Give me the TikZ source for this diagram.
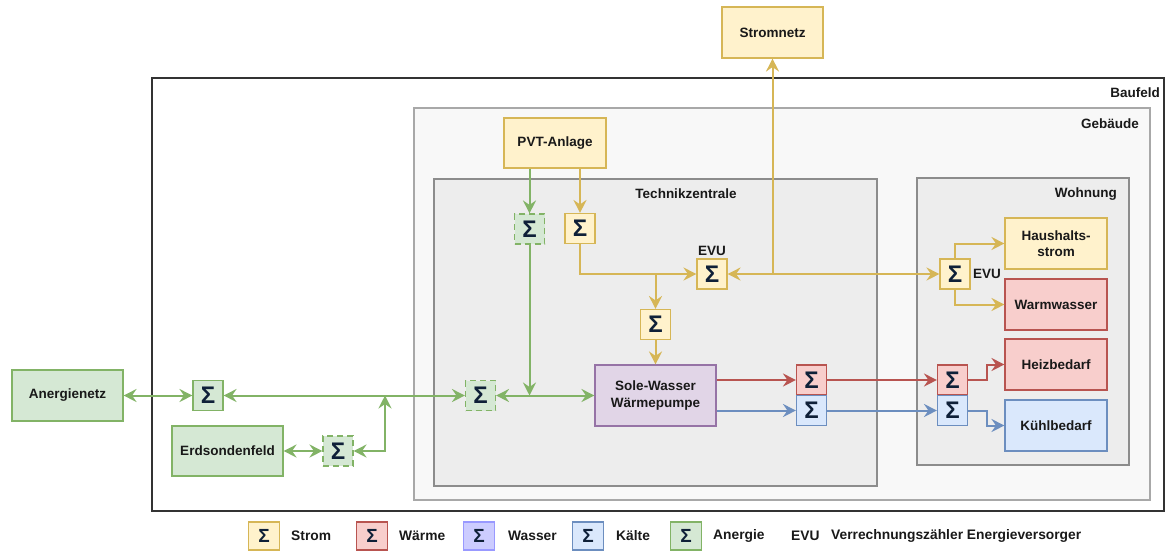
\documentclass[tikz,border=0pt]{standalone}
\usepackage{fontspec}
\setmainfont{Liberation Sans}
\usetikzlibrary{arrows.meta}
\definecolor{yf}{HTML}{FFF2CC}\definecolor{yd}{HTML}{D6B656}
\definecolor{rf}{HTML}{F8CECC}\definecolor{rd}{HTML}{B85450}
\definecolor{bf}{HTML}{DAE8FC}\definecolor{bd}{HTML}{6C8EBF}
\definecolor{gf}{HTML}{D5E8D4}\definecolor{gd}{HTML}{82B366}
\definecolor{pf}{HTML}{E1D5E7}\definecolor{pd}{HTML}{9673A6}
\definecolor{wf}{HTML}{CCCCFF}\definecolor{wd}{HTML}{9999FF}
\definecolor{sigc}{HTML}{0F2038}
\definecolor{geb}{HTML}{F8F8F8}\definecolor{gebd}{HTML}{A8A8A8}
\definecolor{tz}{HTML}{EDEDED}\definecolor{tzd}{HTML}{8C8C8C}
\begin{document}
\begin{tikzpicture}[x=1pt,y=-1pt,
  >={Stealth[length=13pt,width=13pt,inset=4.5pt]},
  lbl/.style={font=\bfseries\fontsize{13.5}{16.5}\selectfont, inner sep=0pt, align=center, text=black!90},
  box/.style={lbl, draw, line width=1.1pt, minimum width=101pt, minimum height=51pt},
  ybox/.style={box, fill=yf, draw=yd},
  rbox/.style={box, fill=rf, draw=rd},
  bbox/.style={box, fill=bf, draw=bd},
  gbox/.style={box, fill=gf, draw=gd, minimum width=111pt},
  pbox/.style={box, fill=pf, draw=pd, minimum width=121pt, minimum height=61pt},
  sig/.style={draw, line width=1.1pt, inner sep=0pt, minimum width=30pt, minimum height=30pt,
    font=\bfseries\fontsize{24}{24}\selectfont, text=sigc},
  ysig/.style={sig, fill=yf, draw=yd},
  rsig/.style={sig, fill=rf, draw=rd},
  bsig/.style={sig, fill=bf, draw=bd},
  gsig/.style={sig, fill=gf, draw=gd},
  gdsig/.style={gsig, dash pattern=on 6pt off 4pt},
  lsig/.style={sig, minimum width=31pt, minimum height=28pt, font=\bfseries\fontsize{19}{19}\selectfont},
  ltxt/.style={font=\bfseries\fontsize{13.8}{16}\selectfont, inner sep=0pt, anchor=west, text=black!90},
  ycon/.style={draw=yd, line width=2pt},
  rcon/.style={draw=rd, line width=2pt},
  bcon/.style={draw=bd, line width=2pt},
  gcon/.style={draw=gd, line width=2pt},
  ]
\useasboundingbox (0,0) rectangle (1165,555);

% containers
\draw[draw=black!80, line width=1.5pt, fill=white] (152,78) rectangle (1164,511);
\node[lbl, anchor=east] (baufeld) at (1160,93) {Baufeld};
\draw[draw=gebd, line width=1.2pt, fill=geb] (414,108) rectangle (1150,500);
\node[lbl, anchor=east] (gebaeude) at (1139,123.5) {Gebäude};
\draw[draw=tzd, line width=1.2pt, fill=tz] (434,179) rectangle (877,486);
\node[lbl] (technik) at (686,194) {Technikzentrale};
\draw[draw=tzd, line width=1.2pt, fill=tz] (917,178) rectangle (1129,465);
\node[lbl, anchor=east] (wohnung) at (1117,194) {Wohnung};

% nodes
\node[ybox] (strom) at (772.5,32.5) {Stromnetz};
\node[ybox, minimum width=102pt, minimum height=50pt] (pvt) at (555,143) {PVT-Anlage};
\node[gdsig] (gs1) at (529.5,229) {Σ};
\node[ysig] (ys1) at (580,228.5) {Σ};
\node[ysig] (evu1) at (712,274) {Σ};
\node[lbl] (evu1l) at (712,251) {EVU};
\node[ysig] (ys2) at (655.5,324.5) {Σ};
\node[pbox] (wp) at (655.5,395.5) {Sole-Wasser\\Wärmepumpe};
\node[rsig] (hs1) at (811.5,380) {Σ};
\node[bsig] (ks1) at (811.5,410.5) {Σ};
\node[rsig] (hs2) at (952.5,380) {Σ};
\node[bsig] (ks2) at (952.5,410.5) {Σ};
\node[ysig] (evu2) at (955,274) {Σ};
\node[lbl] (evu2l) at (987,274) {EVU};
\node[ybox, minimum width=102pt] (haus) at (1056,243.5) {Haushalts-\\strom};
\node[rbox, minimum width=102pt] (warm) at (1056,304.5) {Warmwasser};
\node[rbox, minimum width=102pt] (heiz) at (1056,364.5) {Heizbedarf};
\node[bbox, minimum width=102pt] (kuehl) at (1056,425.5) {Kühlbedarf};
\node[gdsig] (gs2) at (480.5,395.5) {Σ};
\node[gbox] (an) at (67.5,395.5) {Anergienetz};
\node[gsig] (gs0) at (208,395.5) {Σ};
\node[gbox, minimum height=50pt] (erd) at (227.5,451) {Erdsondenfeld};
\node[gdsig] (gs3) at (338,451) {Σ};

% yellow connectors
\draw[ycon,->] (pvt.south -| ys1) -- (ys1.north);
\draw[ycon,->] (ys1.south) |- (evu1.west);
\coordinate (j1) at (ys2.north |- evu1.west);
\draw[ycon,->] (j1) -- (ys2.north);
\draw[ycon,->] (ys2.south) -- (wp.north);
\coordinate (j2) at (strom.south |- evu1.east);
\draw[ycon,->] (j2) -- (strom.south);
\draw[ycon,->] (j2) -- (evu1.east);
\draw[ycon,->] (j2) -- (evu2.west);
\draw[ycon,->] (evu2.north) |- (haus.west);
\draw[ycon,->] (evu2.south) |- (warm.west);

% red / blue connectors
\draw[rcon,->] (wp.east |- hs1.west) -- (hs1.west);
\draw[rcon,->] (hs1.east) -- (hs2.west);
\draw[rcon,->] (hs2.east) -- ++(19,0) |- (heiz.west);
\draw[bcon,->] (wp.east |- ks1.west) -- (ks1.west);
\draw[bcon,->] (ks1.east) -- (ks2.west);
\draw[bcon,->] (ks2.east) -- ++(19,0) |- (kuehl.west);

% green connectors
\draw[gcon,->] (pvt.south -| gs1) -- (gs1.north);
\coordinate (j3) at (gs1.south |- gs2.east);
\draw[gcon,->] (gs1.south) -- (j3);
\draw[gcon,<->] (gs2.east) -- (wp.west);
\draw[gcon,<->] (an.east) -- (gs0.west);
\draw[gcon,<->] (gs0.east) -- (gs2.west);
\draw[gcon,<->] (erd.east) -- (gs3.west);
\coordinate (j4) at (385,395.5);
\draw[gcon,<->] (gs3.east) -| (j4);

% legend
\node[lsig, fill=yf, draw=yd] (lg1) at (264,536) {Σ};
\node[ltxt] (lt1) at (291,536) {Strom};
\node[lsig, fill=rf, draw=rd] (lg2) at (372,536) {Σ};
\node[ltxt] (lt2) at (399,536) {Wärme};
\node[lsig, fill=wf, draw=wd] (lg3) at (479,536) {Σ};
\node[ltxt] (lt3) at (508,536) {Wasser};
\node[lsig, fill=bf, draw=bd] (lg4) at (588,536) {Σ};
\node[ltxt] (lt4) at (616,536) {Kälte};
\node[lsig, fill=gf, draw=gd] (lg5) at (686,536) {Σ};
\node[ltxt] (lt5) at (713,536) {Anergie};
\node[ltxt] (lt6) at (791,536) {EVU};
\node[ltxt] (lt7) at (831,536) {Verrechnungszähler Energieversorger};
\end{tikzpicture}
\end{document}
